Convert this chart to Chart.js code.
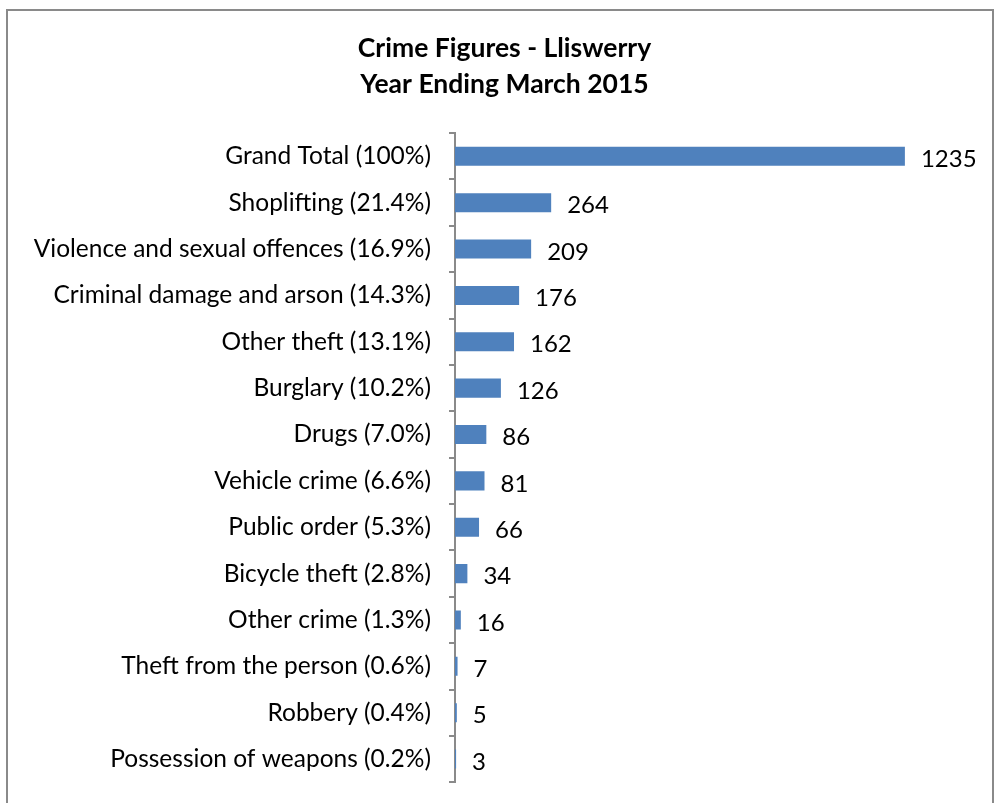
<!DOCTYPE html>
<html>
<head>
<meta charset="utf-8">
<script src="https://cdn.jsdelivr.net/npm/chart.js@4.4.1/dist/chart.umd.min.js"></script>
<style>
  html, body { margin: 0; padding: 0; background: #fff; overflow: hidden; }
  #frame {
    position: absolute; left: 6px; top: 9px;
    width: 984px; height: 812px;
    border: 2px solid #8a8a8a; background: #fff;
  }
  #wrap { position: absolute; left: 0; top: 0; width: 984px; height: 804px; }
</style>
</head>
<body>
<div id="frame"><div id="wrap"><canvas id="chart"></canvas></div></div>
<script>
const titleLines = ['Crime Figures - Lliswerry', 'Year Ending March 2015'];

const categories = [
  'Grand Total (100%)',
  'Shoplifting (21.4%)',
  'Violence and sexual offences (16.9%)',
  'Criminal damage and arson (14.3%)',
  'Other theft (13.1%)',
  'Burglary (10.2%)',
  'Drugs (7.0%)',
  'Vehicle crime (6.6%)',
  'Public order (5.3%)',
  'Bicycle theft (2.8%)',
  'Other crime (1.3%)',
  'Theft from the person (0.6%)',
  'Robbery (0.4%)',
  'Possession of weapons (0.2%)'
];

const crimeCounts = [1235, 264, 209, 176, 162, 126, 86, 81, 66, 34, 16, 7, 5, 3];

const FONT = 'Lato, "Open Sans", sans-serif';
const LABEL_SIZE = 24.5;

// Writes each bar's count just past its end
const valueLabels = {
  id: 'valueLabels',
  afterDatasetsDraw(chart) {
    const ctx = chart.ctx;
    const meta = chart.getDatasetMeta(0);
    ctx.save();
    ctx.font = '24px ' + FONT;
    ctx.fillStyle = '#000';
    ctx.textAlign = 'left';
    ctx.textBaseline = 'middle';
    meta.data.forEach((bar, i) => {
      ctx.fillText(String(chart.data.datasets[0].data[i]), bar.x + 16, bar.y + 3);
    });
    ctx.restore();
  }
};

// Centres the title over the whole frame rather than the padded layout box
const titleShift = {
  id: 'titleShift',
  afterLayout(chart) {
    const t = chart.titleBlock;
    if (t) { t.left += 8; t.right += 8; }
  }
};

new Chart(document.getElementById('chart'), {
  type: 'bar',
  data: {
    labels: categories,
    datasets: [{
      data: crimeCounts,
      backgroundColor: '#4F81BD',
      borderWidth: 0,
      categoryPercentage: 1,
      barPercentage: 0.41
    }]
  },
  options: {
    indexAxis: 'y',
    responsive: true,
    maintainAspectRatio: false,
    animation: false,
    layout: { padding: { left: 20, right: 27, top: 0, bottom: 4 } },
    plugins: {
      legend: { display: false },
      tooltip: { enabled: false },
      title: {
        display: true,
        text: titleLines,
        color: '#000',
        font: { family: FONT, size: 26.5, weight: 'bold', lineHeight: 1.36 },
        padding: { top: 19, bottom: 31 }
      }
    },
    scales: {
      x: {
        display: false,
        min: 0,
        max: 1400
      },
      y: {
        afterFit(scale) { scale.width = 427; },
        grid: {
          display: true,
          drawOnChartArea: false,
          offset: true,
          color: '#8a8a8a',
          lineWidth: 2,
          tickLength: 6
        },
        border: { display: true, color: '#8a8a8a', width: 2 },
        ticks: {
          color: '#000',
          padding: 18,
          font: { family: FONT, size: LABEL_SIZE }
        }
      }
    }
  },
  plugins: [valueLabels, titleShift]
});
</script>
</body>
</html>
